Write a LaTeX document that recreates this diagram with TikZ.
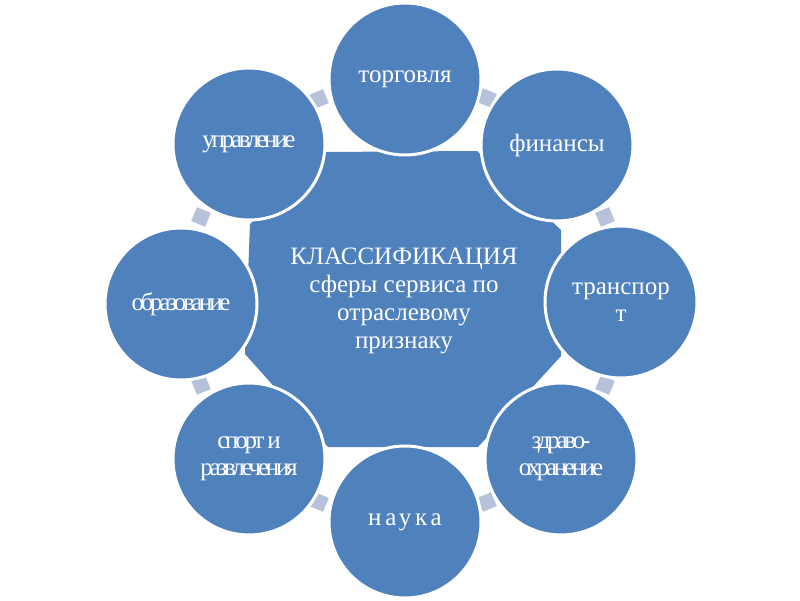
\documentclass[tikz,border=0pt]{standalone}
\usepackage{fontspec}
\setmainfont{Liberation Serif}
\newfontfamily\condfont[LetterSpace=-13]{Liberation Serif}
\newfontfamily\widefont[LetterSpace=15]{Liberation Serif}
\definecolor{sblue}{RGB}{79,129,189}
\definecolor{sconn}{RGB}{183,194,218}
\begin{document}
\begin{tikzpicture}[x=1pt,y=1pt,
  circ/.style={circle,fill=sblue,draw=white,line width=3pt,minimum size=152pt,inner sep=0pt,text=white,align=center,font=\fontsize{25}{27}\selectfont},
  conn/.style={rectangle,fill=sconn,minimum size=15pt,inner sep=0pt},
  hubtext/.style={text=white,align=center,font=\fontsize{25}{28}\selectfont}]
\useasboundingbox[fill=white] (0,0) rectangle (800,600);
% connectors (behind circles)
\node[conn,rotate=22.5]  (c1) at (605,383) {};
\node[conn,rotate=67.5]  (c2) at (487,502) {};
\node[conn,rotate=112.5] (c3) at (319,501) {};
\node[conn,rotate=157.5] (c4) at (201,383) {};
\node[conn,rotate=202.5] (c5) at (201,215) {};
\node[conn,rotate=247.5] (c6) at (319,98) {};
\node[conn,rotate=292.5] (c7) at (487,98) {};
\node[conn,rotate=337.5] (c8) at (605,215) {};
% central polygon
\fill[sblue] (325,448) -- (477,449) -- (561,370) -- (561,244) -- (478,153) -- (328,153) -- (245,246) -- (250,376) -- cycle;
\node[hubtext] (hub) at (404,299) {КЛАССИФИКАЦИЯ\\сферы сервиса по\\отраслевому\\признаку};
% outer circles
\node[circ] (torg) at (405,521) {торговля};
\node[circ] (fin)  at (557,455) {финансы};
\node[circ] (tr)   at (621,298) {транспор\\т};
\node[circ] (zd)   at (561,141) {\condfont здраво-\\\condfont охранение};
\node[circ] (nau)  at (405,78)  {\widefont наука};
\node[circ] (sp)   at (249,141) {\condfont спорт и\\\condfont развлечения};
\node[circ] (obr)  at (181,296) {\condfont образование};
\node[circ] (upr)  at (249,456) {\condfont управление};
\end{tikzpicture}
\end{document}
